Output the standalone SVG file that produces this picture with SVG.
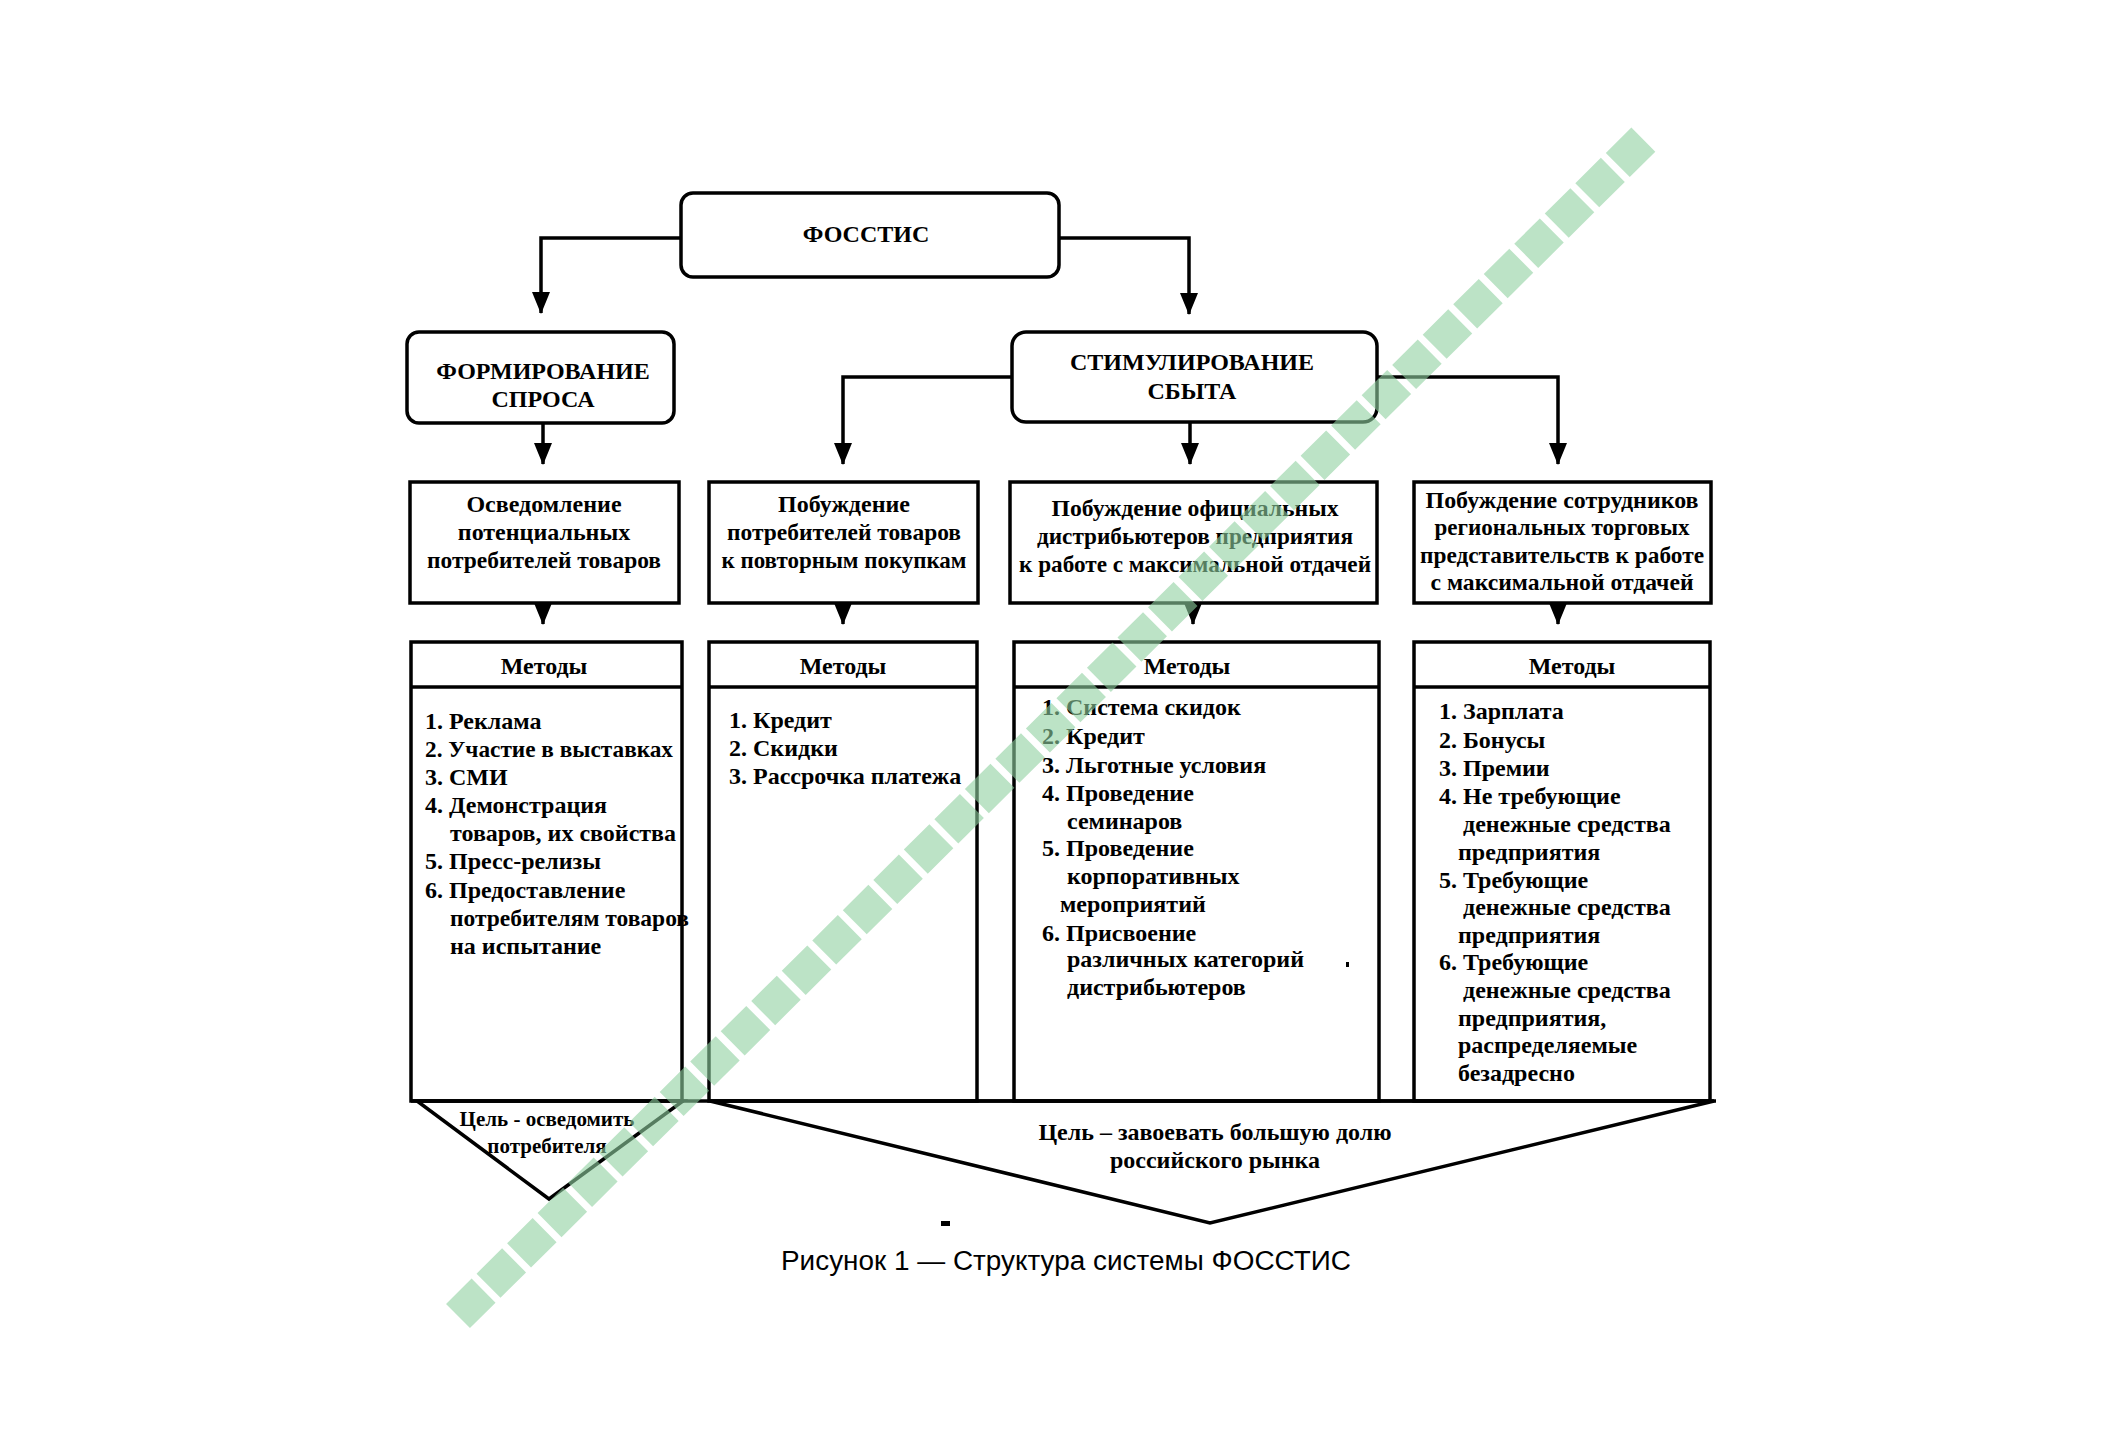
<svg xmlns="http://www.w3.org/2000/svg" width="2101" height="1456" viewBox="0 0 2101 1456">
<defs>
<style>
.box{fill:#fff;stroke:#000;stroke-width:3.5}
.ln{fill:none;stroke:#000;stroke-width:3.5}
.t{font-family:"Liberation Serif","Times New Roman",serif;font-weight:bold;font-size:24px;fill:#000}
.c{text-anchor:middle}
.s{font-size:21px}
.cap{font-family:"Liberation Sans",Arial,sans-serif;font-size:27px;fill:#000;text-anchor:middle}
</style>
<marker id="ar" markerUnits="userSpaceOnUse" markerWidth="22" markerHeight="18" viewBox="0 0 22 18" refX="21" refY="9" orient="auto">
<path d="M0,0 L22,9 L0,18 Z" fill="#000"/>
</marker>
</defs>
<rect width="2101" height="1456" fill="#fff"/>

<g id="connectors">
<path class="ln" d="M681,238 H541 V313" marker-end="url(#ar)"/>
<path class="ln" d="M1059,238 H1189 V314" marker-end="url(#ar)"/>
<path class="ln" d="M543,423 V464" marker-end="url(#ar)"/>
<path class="ln" d="M1012,377 H843 V464" marker-end="url(#ar)"/>
<path class="ln" d="M1190,422 V464" marker-end="url(#ar)"/>
<path class="ln" d="M1377,377 H1558 V464" marker-end="url(#ar)"/>
<path class="ln" d="M543,603 V624" marker-end="url(#ar)"/>
<path class="ln" d="M843,603 V624" marker-end="url(#ar)"/>
<path class="ln" d="M1193,603 V624" marker-end="url(#ar)"/>
<path class="ln" d="M1558,603 V624" marker-end="url(#ar)"/>
</g>

<g id="n-fosstis">
<rect class="box" x="681" y="193" width="378" height="84" rx="12"/>
<text class="t c" x="866" y="234" dominant-baseline="central">ФОССТИС</text>
</g>

<g id="n-formirovanie">
<rect class="box" x="407" y="332" width="267" height="91" rx="12"/>
<text class="t c" x="543" y="371" dominant-baseline="central">ФОРМИРОВАНИЕ</text>
<text class="t c" x="543" y="399" dominant-baseline="central">СПРОСА</text>
</g>

<g id="n-stimulirovanie">
<rect class="box" x="1012" y="332" width="365" height="90" rx="14"/>
<text class="t c" x="1192" y="362" dominant-baseline="central">СТИМУЛИРОВАНИЕ</text>
<text class="t c" x="1192" y="391" dominant-baseline="central">СБЫТА</text>
</g>

<g id="n-goal-a">
<rect class="box" x="410" y="482" width="269" height="121"/>
<text class="t c" x="544" y="504" dominant-baseline="central">Осведомление</text>
<text class="t c" x="544" y="532" dominant-baseline="central">потенциальных</text>
<text class="t c" x="544" y="560" dominant-baseline="central" textLength="234" lengthAdjust="spacingAndGlyphs">потребителей товаров</text>
</g>

<g id="n-goal-b">
<rect class="box" x="709" y="482" width="269" height="121"/>
<text class="t c" x="844" y="504" dominant-baseline="central">Побуждение</text>
<text class="t c" x="844" y="532" dominant-baseline="central" textLength="234" lengthAdjust="spacingAndGlyphs">потребителей товаров</text>
<text class="t c" x="844" y="560" dominant-baseline="central" textLength="245" lengthAdjust="spacingAndGlyphs">к повторным покупкам</text>
</g>

<g id="n-goal-c">
<rect class="box" x="1010" y="482" width="367" height="121"/>
<text class="t c" x="1195" y="508" dominant-baseline="central" textLength="287" lengthAdjust="spacingAndGlyphs">Побуждение официальных</text>
<text class="t c" x="1195" y="536" dominant-baseline="central" textLength="316" lengthAdjust="spacingAndGlyphs">дистрибьютеров предприятия</text>
<text class="t c" x="1195" y="564" dominant-baseline="central" textLength="352" lengthAdjust="spacingAndGlyphs">к работе с максимальной отдачей</text>
</g>

<g id="n-goal-d">
<rect class="box" x="1414" y="482" width="297" height="121"/>
<text class="t c" x="1562" y="500" dominant-baseline="central" textLength="273" lengthAdjust="spacingAndGlyphs">Побуждение сотрудников</text>
<text class="t c" x="1562" y="527" dominant-baseline="central" textLength="255" lengthAdjust="spacingAndGlyphs">региональных торговых</text>
<text class="t c" x="1562" y="555" dominant-baseline="central" textLength="284" lengthAdjust="spacingAndGlyphs">представительств к работе</text>
<text class="t c" x="1562" y="582" dominant-baseline="central" textLength="263" lengthAdjust="spacingAndGlyphs">с максимальной отдачей</text>
</g>

<g id="n-methods-a">
<rect class="box" x="411" y="642" width="271" height="459"/>
<line class="ln" x1="411" y1="687" x2="682" y2="687"/>
<text class="t c" x="544" y="666" dominant-baseline="central">Методы</text>
<g class="t" dominant-baseline="central">
<text x="425" y="721">1. Реклама</text>
<text x="425" y="749" textLength="248" lengthAdjust="spacingAndGlyphs">2. Участие в выставках</text>
<text x="425" y="777">3. СМИ</text>
<text x="425" y="805">4. Демонстрация</text>
<text x="450" y="833">товаров, их свойства</text>
<text x="425" y="861">5. Пресс-релизы</text>
<text x="425" y="890">6. Предоставление</text>
<text x="450" y="918" textLength="239" lengthAdjust="spacingAndGlyphs">потребителям товаров</text>
<text x="450" y="946">на испытание</text>
</g>
</g>

<g id="n-methods-b">
<rect class="box" x="709" y="642" width="268" height="459"/>
<line class="ln" x1="709" y1="687" x2="977" y2="687"/>
<text class="t c" x="843" y="666" dominant-baseline="central">Методы</text>
<g class="t" dominant-baseline="central">
<text x="729" y="720">1. Кредит</text>
<text x="729" y="748">2. Скидки</text>
<text x="729" y="776">3. Рассрочка платежа</text>
</g>
</g>

<g id="n-methods-c">
<rect class="box" x="1014" y="642" width="365" height="459"/>
<line class="ln" x1="1014" y1="687" x2="1379" y2="687"/>
<text class="t c" x="1187" y="666" dominant-baseline="central">Методы</text>
<g class="t" dominant-baseline="central">
<text x="1042" y="707">1. Система скидок</text>
<text x="1042" y="736">2. Кредит</text>
<text x="1042" y="765">3. Льготные условия</text>
<text x="1042" y="793">4. Проведение</text>
<text x="1067" y="821">семинаров</text>
<text x="1042" y="848">5. Проведение</text>
<text x="1067" y="876">корпоративных</text>
<text x="1060" y="904">мероприятий</text>
<text x="1042" y="933">6. Присвоение</text>
<text x="1067" y="959">различных категорий</text>
<text x="1067" y="987">дистрибьютеров</text>
</g>
<rect x="1346" y="962" width="3" height="5" fill="#000"/>
</g>

<g id="n-methods-d">
<rect class="box" x="1414" y="642" width="296" height="459"/>
<line class="ln" x1="1414" y1="687" x2="1710" y2="687"/>
<text class="t c" x="1572" y="666" dominant-baseline="central">Методы</text>
<g class="t" dominant-baseline="central">
<text x="1439" y="711">1. Зарплата</text>
<text x="1439" y="740">2. Бонусы</text>
<text x="1439" y="768">3. Премии</text>
<text x="1439" y="796">4. Не требующие</text>
<text x="1463" y="824">денежные средства</text>
<text x="1458" y="852">предприятия</text>
<text x="1439" y="880">5. Требующие</text>
<text x="1463" y="907">денежные средства</text>
<text x="1458" y="935">предприятия</text>
<text x="1439" y="962">6. Требующие</text>
<text x="1463" y="990">денежные средства</text>
<text x="1458" y="1018">предприятия,</text>
<text x="1458" y="1045">распределяемые</text>
<text x="1458" y="1073">безадресно</text>
</g>
</g>

<g id="n-goal-left">
<path class="ln" d="M417,1101 L683,1101 L549,1199 Z"/>
<text class="t c s" x="547" y="1119" dominant-baseline="central">Цель - осведомить</text>
<text class="t c s" x="547" y="1146" dominant-baseline="central">потребителя</text>
</g>

<g id="n-goal-right">
<path class="ln" d="M710,1101 L1714,1101 L1210,1223 Z"/>
<text class="t c" x="1215" y="1132" dominant-baseline="central">Цель – завоевать большую долю</text>
<text class="t c" x="1215" y="1160" dominant-baseline="central">российского рынка</text>
</g>
<line class="ln" x1="411" y1="1101" x2="1716" y2="1101"/>

<rect x="941" y="1221" width="9" height="5" fill="#000"/>
<text class="cap" x="1066" y="1270" textLength="570" lengthAdjust="spacingAndGlyphs">Рисунок 1 — Структура системы ФОССТИС</text>

<line x1="458" y1="1316" x2="1647" y2="136" stroke="#8fd0a0" stroke-opacity="0.6" stroke-width="34" stroke-dasharray="36 7"/>
</svg>
